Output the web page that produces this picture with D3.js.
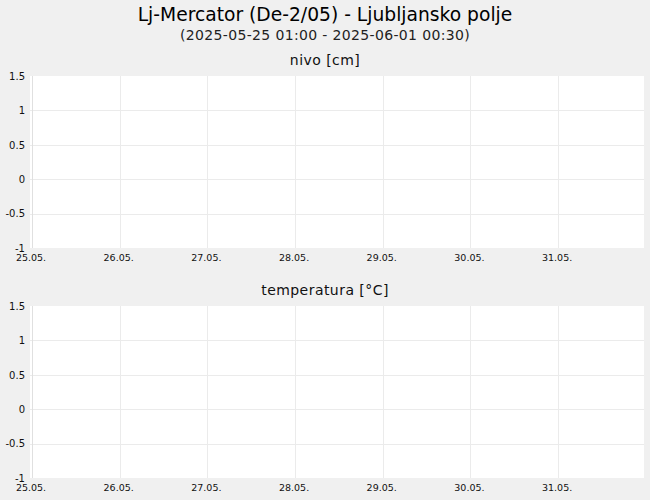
<!DOCTYPE html>
<html>
<head>
<meta charset="utf-8">
<script src="https://cdn.jsdelivr.net/npm/d3@7"></script>
<style>
  html, body { margin: 0; padding: 0; background: #f0f0f0; }
  svg { display: block; font-family: "DejaVu Sans", sans-serif; }
</style>
</head>
<body>
<script>
const title = "Lj-Mercator (De-2/05) - Ljubljansko polje";
const subtitle = "(2025-05-25 01:00 - 2025-06-01 00:30)";
const panelTitles = ["nivo [cm]", "temperatura [°C]"];
const yTicks = [-1, -0.5, 0, 0.5, 1, 1.5];
const dayTicks = ["2025-05-25", "2025-05-26", "2025-05-27", "2025-05-28", "2025-05-29", "2025-05-30", "2025-05-31"];
const nivoValues = [];        // no measurements in the period
const temperaturaValues = []; // no measurements in the period
const series = [nivoValues, temperaturaValues];

const W = 650, H = 500;
const svg = d3.select("body").append("svg").attr("width", W).attr("height", H);
svg.append("rect").attr("width", W).attr("height", H).attr("fill", "#f0f0f0");

svg.append("text").attr("x", 325).attr("y", 21).attr("text-anchor", "middle")
  .attr("font-size", 18.7).attr("fill", "#000").text(title);
svg.append("text").attr("x", 325).attr("y", 39.5).attr("text-anchor", "middle")
  .attr("font-size", 14).attr("letter-spacing", 0.35).attr("fill", "#222").text(subtitle);

const x = d3.scaleUtc()
  .domain([new Date(Date.UTC(2025, 4, 24, 23, 27)), new Date(Date.UTC(2025, 4, 31, 23, 31))])
  .range([30, 644]);
const fmt = d3.utcFormat("%d.%m.");
const tickDates = dayTicks.map(s => new Date(s + "T00:00:00Z"));

const panels = [{top: 76, h: 172, titleY: 65}, {top: 306, h: 172, titleY: 295}];

panels.forEach((p, i) => {
  const y = d3.scaleLinear().domain([-1, 1.5]).range([p.top + p.h, p.top]);
  const g = svg.append("g");
  svg.append("text").attr("x", 325).attr("y", p.titleY).attr("text-anchor", "middle")
    .attr("font-size", 14).attr("letter-spacing", 0.45).attr("fill", "#111").text(panelTitles[i]);
  g.append("rect").attr("x", 30).attr("y", p.top).attr("width", 614).attr("height", p.h).attr("fill", "#fff");

  // horizontal grid
  g.selectAll(".hg").data(yTicks.filter(d => d > -1 && d < 1.5)).join("line")
    .attr("x1", 30).attr("x2", 644)
    .attr("y1", d => Math.round(y(d)) + 0.5).attr("y2", d => Math.round(y(d)) + 0.5)
    .attr("stroke", "#ebebeb").attr("stroke-width", 1);
  // vertical grid
  g.selectAll(".vg").data(tickDates).join("line")
    .attr("x1", d => Math.round(x(d)) + 0.5).attr("x2", d => Math.round(x(d)) + 0.5)
    .attr("y1", p.top).attr("y2", p.top + p.h)
    .attr("stroke", (d, j) => j === 0 ? "#e0e0e0" : "#ebebeb").attr("stroke-width", 1);

  // y axis labels
  const ya = d3.axisLeft(y).tickValues(yTicks).tickSize(0).tickPadding(0).tickFormat(d => String(d));
  const yg = svg.append("g").attr("transform", "translate(25,0)").call(ya);
  yg.select(".domain").remove();
  yg.selectAll("text").attr("font-size", 10).attr("font-family", "DejaVu Sans, sans-serif").attr("fill", "#111");

  // x axis labels
  const xa = d3.axisBottom(x).tickValues(tickDates).tickSize(0).tickPadding(0).tickFormat(fmt);
  const xg = svg.append("g").attr("transform", `translate(-1.5,${p.top + p.h + 6.5})`).call(xa);
  xg.select(".domain").remove();
  xg.selectAll("text").attr("font-size", 9.5).attr("font-family", "DejaVu Sans, sans-serif").attr("fill", "#111");

  // data line (empty)
  const line = d3.line().x(d => x(d.t)).y(d => y(d.v));
  g.append("path").datum(series[i]).attr("d", line).attr("fill", "none").attr("stroke", "#1f77b4");
});
</script>
</body>
</html>
